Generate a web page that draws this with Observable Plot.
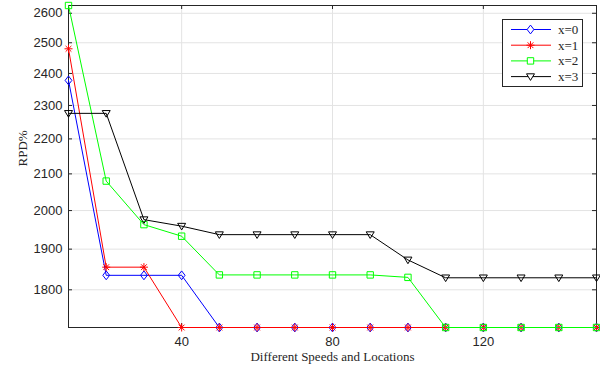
<!DOCTYPE html>
<html><head><meta charset="utf-8">
<script src="https://cdn.jsdelivr.net/npm/d3@7"></script>
<script src="https://cdn.jsdelivr.net/npm/@observablehq/plot@0.6"></script>
<style>
body{margin:0;background:#fff;}
#wrap{position:relative;width:600px;height:372px;}
#legend{position:absolute;left:502px;top:19px;}
</style></head><body><div id="wrap"></div>
<script>
// ---- data ----
const xs = [10,20,30,40,50,60,70,80,90,100,110,120,130,140,150];
const seriesNames = ["x=0","x=1","x=2","x=3"];
const s0 = [2378,1835,1835,1835,1712,1712,1712,1712,1712,1712,1712,1712,1712,1712,1712];
const s1 = [2480,1855,1855,1712,1712,1712,1712,1712,1712,1712,1712,1712,1712,1712,1712];
const s2 = [2627,2080,1963,1933,1836,1836,1836,1836,1836,1830,1712,1712,1712,1712,1712];
const s3 = [2276,2276,1976,1959,1937,1937,1937,1937,1937,1873,1829,1829,1829,1829,1829];
const yTicks = [1800,1900,2000,2100,2200,2300,2400,2500,2600];
const xTicks = [40,80,120];
const colors = ["#0000ff","#ff0000","#00ff00","#000000"];

const allSeries = [s0,s1,s2,s3];
const rows = allSeries.flatMap((s,i)=> s.map((v,j)=>({x: xs[j], y: v, series: seriesNames[i]})));

// ---- custom marker symbols ----
const rOf = size => Math.sqrt(size/Math.PI);
const symDiamond = {draw(c,size){const r=rOf(size); c.moveTo(0,-r*1.1); c.lineTo(r*0.85,0); c.lineTo(0,r*1.1); c.lineTo(-r*0.85,0); c.closePath();}};
const symStar = {draw(c,size){const r=rOf(size), d=r*0.72; c.moveTo(-r,0); c.lineTo(r,0); c.moveTo(0,-r); c.lineTo(0,r); c.moveTo(-d,-d); c.lineTo(d,d); c.moveTo(-d,d); c.lineTo(d,-d);}};
const symSquare = {draw(c,size){const r=rOf(size)*0.8; c.rect(-r,-r,2*r,2*r);}};
const symTri = {draw(c,size){const r=rOf(size); c.moveTo(-r,-r*0.7); c.lineTo(r,-r*0.7); c.lineTo(0,r*0.95); c.closePath();}};
const symbols = [symDiamond, symStar, symSquare, symTri];

const W = 600, H = 372, mL = 68, mR = 4, mT = 5, mB = 45;
const pw = W - mL - mR, ph = H - mT - mB;
const axisColor = "#262626";

const seriesMarks = allSeries.flatMap((s,i)=>{
  const d = rows.filter(r=>r.series===seriesNames[i]);
  return [
    Plot.line(d, {x:"x", y:"y", stroke: colors[i], strokeWidth: 1}),
    Plot.dot(d, {x:"x", y:"y", stroke: colors[i], symbol: symbols[i], r: 4, strokeWidth: 1, fill: "none"})
  ];
});

const chart = Plot.plot({
  width: W, height: H,
  marginLeft: mL, marginRight: mR, marginTop: mT, marginBottom: mB,
  style: {background: "#fff", overflow: "visible"},
  x: {domain: [10,150]},
  y: {type: "log", domain: d3.extent(rows, d=>d.y)},
  marks: [
    Plot.gridY(yTicks, {stroke: "#e3e3e3", strokeOpacity: 1}),
    Plot.gridX(xTicks, {stroke: "#e3e3e3", strokeOpacity: 1}),
    Plot.tickY(yTicks, {stroke: axisColor, insetRight: pw-4}),
    Plot.tickY(yTicks, {stroke: axisColor, insetLeft: pw-4}),
    Plot.tickX(xTicks, {stroke: axisColor, insetTop: ph-4}),
    Plot.tickX(xTicks, {stroke: axisColor, insetBottom: ph-4}),
    Plot.frame({stroke: axisColor}),
    ...seriesMarks,
    Plot.axisY(yTicks, {tickSize: 0, tickPadding: 6, tickFormat: d=>String(d), label: null, fontFamily: "Liberation Sans", fontSize: 13, color: axisColor}),
    Plot.axisX(xTicks, {tickSize: 0, tickPadding: 9, tickFormat: d=>String(d), label: null, fontFamily: "Liberation Sans", fontSize: 13, color: axisColor}),
    Plot.text(["RPD%"], {frameAnchor: "left", dx: -46, rotate: -90, fontFamily: "Liberation Serif", fontSize: 13, fill: "#262626"}),
    Plot.text(["Different Speeds and Locations"], {frameAnchor: "bottom", dy: 33, fontFamily: "Liberation Serif", fontSize: 13, fill: "#262626"})
  ]
});
document.getElementById("wrap").appendChild(chart);

// ---- legend ----
const lg = d3.select("#wrap").append("svg").attr("id","legend").attr("width",81).attr("height",68);
lg.append("rect").attr("x",0.5).attr("y",0.5).attr("width",80).attr("height",67).attr("fill","#fff").attr("stroke",axisColor);
seriesNames.forEach((name,i)=>{
  const yy = 10.5 + i*15.7;
  const g = lg.append("g");
  g.append("line").attr("x1",9).attr("x2",49).attr("y1",yy).attr("y2",yy).attr("stroke",colors[i]);
  const p = d3.path(); symbols[i].draw(p, 16*Math.PI);
  g.append("path").attr("d", p.toString()).attr("transform",`translate(28.5,${yy})`).attr("fill","#fff").attr("stroke",colors[i]);
  g.append("text").attr("x",56).attr("y",yy).attr("dy","0.35em").attr("font-family","Liberation Serif").attr("font-size",13).attr("fill","#262626").text(name);
});
</script>
</body></html>
